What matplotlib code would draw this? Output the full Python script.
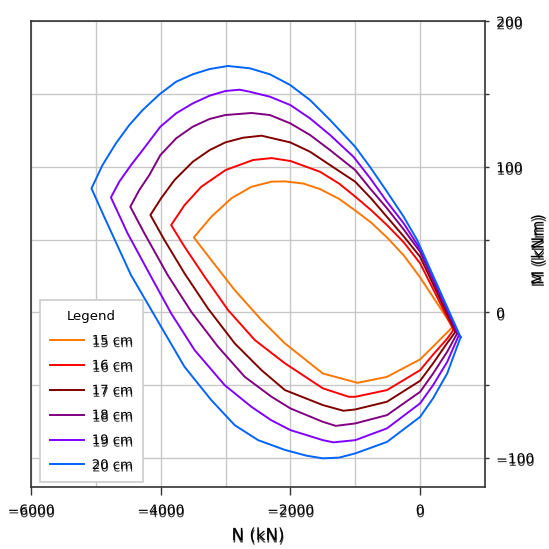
import matplotlib
matplotlib.use("Agg")
import matplotlib.pyplot as plt
import matplotlib.patheffects as pe
from matplotlib.ticker import MultipleLocator

# N-M interaction curves (N in kN, M in kNm)
sections = ["15 cm", "16 cm", "17 cm", "18 cm", "19 cm", "20 cm"]
colors = ["#ff7700", "#ff0000", "#800000", "#800080", "#7f00ff", "#0064ff"]

n15 = [500, 340, 0, -250, -500, -750, -1000, -1250, -1543, -1800, -2085, -2291, -2601, -2910, -3220, -3489,
       -3220, -2859, -2446, -2085, -1500, -966, -511, 0, 300, 500]
m15 = [-10, 1, 24, 39, 51, 61.5, 70, 78, 84.7, 88.5, 90, 89.8, 86.3, 78.4, 65.7, 51.5,
       35.9, 15.3, -5.3, -21.3, -42, -48.4, -44.3, -32.3, -19, -10]

n16 = [515, 0, -250, -500, -750, -1000, -1250, -1543, -2000, -2291, -2575, -3000, -3375, -3633, -3839,
       -3633, -3323, -2962, -2550, -2085, -1500, -1100, -1000, -511, 0, 200, 418, 515]
m16 = [-12, 33.7, 48, 59.5, 70, 79.5, 88.5, 96.6, 104, 106, 104.7, 97.8, 86.3, 73.7, 60,
       45.1, 24.5, 1.6, -19, -35, -52.2, -58, -58, -53.4, -39.7, -29, -18, -12]

n17 = [546, 0, -250, -500, -750, -1002, -1389, -1698, -2003, -2446, -2731, -3003, -3246, -3505, -3788, -3994, -4159,
       -3943, -3633, -3272, -2859, -2446, -2085, -1500, -1183, -1000, -511, 0, 200, 418, 546]
m17 = [-13.3, 38.2, 52, 65, 78, 89.8, 101.2, 110.4, 116.8, 121.4, 120, 116.8, 111.5, 103.5, 90.9, 78.4, 66.9,
       49.7, 26.8, 2.7, -21.3, -39.7, -53.4, -63.7, -67.6, -66.7, -61.4, -47, -35, -21, -13.3]

n18 = [572, 0, -254, -511, -769, -1002, -1389, -1698, -2003, -2317, -2601, -3003, -3246, -3505, -3762, -4005,
       -4175, -4330, -4469,
       -4252, -3892, -3529, -3117, -2704, -2291, -2000, -1500, -1300, -1000, -511, 0, 200, 418, 572]
m18 = [-14.4, 41.6, 57, 71.5, 85, 97.8, 111.5, 121.9, 129.9, 135.6, 137, 135.6, 132.9, 127.6, 119.6, 108.1,
       94.4, 84.1, 72.6,
       54.3, 25.6, 0.4, -23.6, -44.3, -58, -66, -75.2, -78, -76.3, -70.6, -54.6, -42, -27, -14.4]

n19 = [598, 0, -254, -511, -769, -1028, -1389, -1698, -2003, -2317, -2627, -2782, -3003, -3246, -3505, -3762,
       -4005, -4279, -4458, -4639, -4768,
       -4511, -4149, -3839, -3478, -3014, -2601, -2300, -2000, -1500, -1337, -1000, -511, 0, 200, 418, 598]
m19 = [-15.6, 43.5, 61.2, 76, 92.1, 106.9, 121.9, 133.3, 142.5, 148.2, 151.6, 153, 152.1, 148.9, 143.6, 136.8,
       127.6, 111.5, 101.2, 89.8, 79,
       54.3, 24.5, -0.7, -25.9, -50, -64.9, -74, -80.9, -87.8, -89.3, -87.8, -79.7, -62.5, -50, -34, -15.6]

n20 = [624, -46, -254, -511, -769, -1002, -1389, -1698, -2003, -2317, -2627, -2963, -3246, -3505, -3762, -4020,
       -4279, -4485, -4690, -4898, -5000, -5068,
       -4872, -4458, -3994, -3633, -3220, -2859, -2498, -2085, -1750, -1500, -1250, -1000, -511, 0, 200, 418, 624]
m20 = [-17, 49.7, 65.7, 82.9, 99.7, 113.8, 132.2, 145.9, 156.2, 163.6, 167.7, 169.3, 167.2, 163.6, 158.5, 149.8,
       139, 128.7, 116.2, 101.2, 91.5, 85.2,
       65.7, 25.6, -9.9, -37.4, -60.3, -77.5, -87.8, -94.5, -98.5, -100.3, -99.8, -96.9, -89, -71.8, -59, -41.9, -17]

curves = [(n15, m15), (n16, m16), (n17, m17), (n18, m18), (n19, m19), (n20, m20)]

# the reference text looks doubled; mimic it with a hard offset shadow
ghost = [pe.SimplePatchShadow(offset=(0.3, -1.8), shadow_rgbFace="#222222", alpha=0.85), pe.Normal()]

fig = plt.figure(figsize=(5.49, 5.49), dpi=100)
ax = fig.add_axes([0.0565, 0.1129, 0.8269, 0.8483])

for (n, m), lab, c in zip(curves, sections, colors):
    ax.plot(n, m, color=c, lw=1.4, label=lab)

ax.set_xlim(-6000, 1000)
ax.set_ylim(-120, 200)
ax.xaxis.set_major_locator(MultipleLocator(2000))
ax.xaxis.set_minor_locator(MultipleLocator(1000))
ax.yaxis.set_major_locator(MultipleLocator(100))
ax.yaxis.set_minor_locator(MultipleLocator(50))
ax.grid(True, which="both", color="#c8c8c8", lw=1.0)
ax.set_axisbelow(True)

ax.yaxis.tick_right()
ax.yaxis.set_label_position("right")
ax.tick_params(axis="x", which="major", length=6, width=1, color="#333333", labelsize=10, pad=6)
ax.tick_params(axis="x", which="minor", length=0)
ax.tick_params(axis="y", which="both", length=3, width=1, color="#333333", labelsize=10, pad=5)
for s in ax.spines.values():
    s.set_color("#333333")
    s.set_linewidth(1.2)

for lbl in ax.get_xticklabels() + ax.get_yticklabels():
    lbl.set_path_effects(ghost)

ax.set_xlabel("N (kN)", fontsize=12, labelpad=6, path_effects=ghost)
ax.set_ylabel("M (kNm)", fontsize=12, path_effects=ghost)
ax.yaxis.set_label_coords(1.098, 0.51)

leg = ax.legend(title="Legend", loc="lower left", bbox_to_anchor=(0.019, 0.011), borderaxespad=0,
                fontsize=9.5, title_fontsize=9.5, handlelength=2.6, handletextpad=0.6,
                labelspacing=0.9, borderpad=0.75, fancybox=False, framealpha=1,
                edgecolor="#cccccc")
leg.get_frame().set_linewidth(1.2)
for t in leg.get_texts():
    t.set_path_effects(ghost)

fig.savefig("out.png", dpi=100)
